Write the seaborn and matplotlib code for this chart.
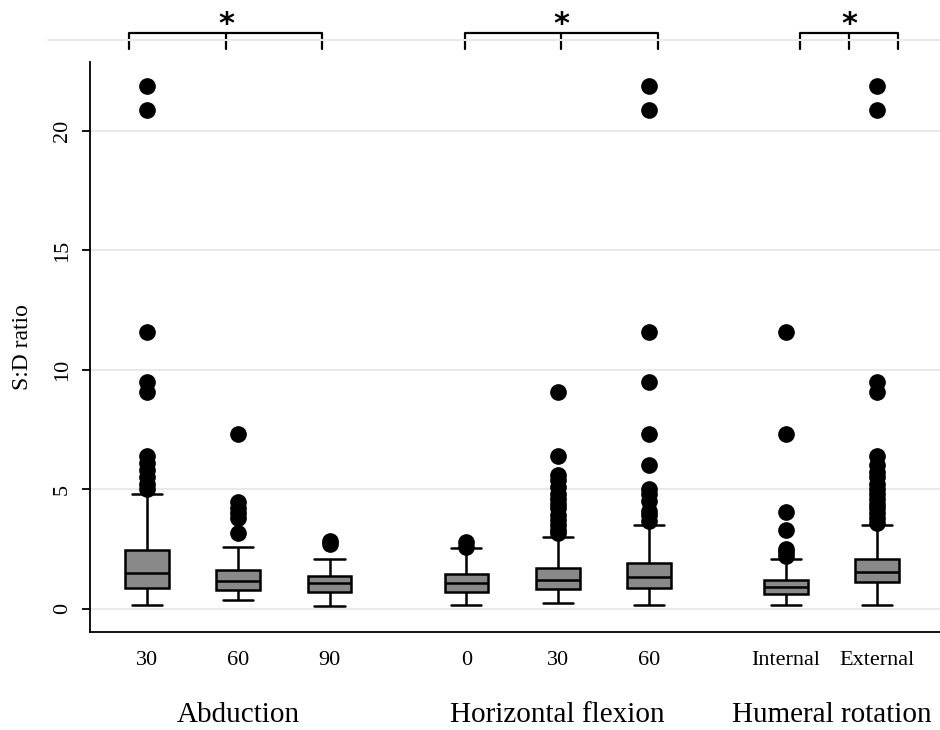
import pandas as pd
import seaborn as sns
import matplotlib.pyplot as plt
from matplotlib.lines import Line2D

# box summaries (S:D ratio)
tick_labels = ['30', '60', '90', '0', '30', '60', 'Internal', 'External']
positions = [0, 1, 2, 3.5, 4.5, 5.5, 7, 8]
groups = ['Abduction', 'Horizontal flexion', 'Humeral rotation']
group_centers = [1, 4.5, 7.5]

low = [0.14, 0.35, 0.11, 0.15, 0.23, 0.13, 0.13, 0.13]
q1 = [0.88, 0.77, 0.71, 0.70, 0.81, 0.85, 0.60, 1.10]
median = [1.47, 1.15, 1.06, 1.09, 1.19, 1.33, 0.92, 1.54]
q3 = [2.45, 1.62, 1.37, 1.44, 1.69, 1.92, 1.19, 2.08]
high = [4.80, 2.57, 2.07, 2.53, 3.00, 3.50, 2.07, 3.52]
outliers = [
    [21.9, 20.9, 11.6, 9.5, 9.05, 6.4, 6.1, 5.8, 5.5, 5.2, 5.0],
    [7.3, 4.45, 4.2, 4.0, 3.8, 3.15],
    [2.85, 2.7],
    [2.8, 2.6],
    [9.05, 6.4, 5.6, 5.4, 5.1, 4.8, 4.6, 4.4, 4.2, 3.9, 3.7, 3.5, 3.3, 3.15],
    [21.9, 20.9, 11.6, 9.5, 7.3, 6.0, 5.0, 4.8, 4.5, 4.1, 3.9, 3.65],
    [11.6, 7.3, 4.05, 3.3, 2.5, 2.35, 2.2],
    [21.9, 20.9, 9.5, 9.05, 6.4, 6.0, 5.7, 5.5, 5.2, 5.0, 4.8, 4.6, 4.4, 4.2,
     4.0, 3.8, 3.6],
]

# significance brackets: (left, middle, right) in x units
brackets = [(-0.2, 0.866, 1.918), (3.485, 4.537, 5.6), (7.156, 7.693, 8.23)]

BOX_W = 0.48
CAP_W = 0.33

# long table whose quartiles/whiskers reproduce the summaries above
rows = []
for i, p in enumerate(positions):
    r = len(outliers[i]) + 2
    vals = [low[i]] + [q1[i]] * r + [median[i]] * r + [q3[i]] * r + [high[i]] + outliers[i]
    rows += [(p, v) for v in vals]
df = pd.DataFrame(rows, columns=['pos', 'value'])

sns.set_theme(style='white')
plt.rcParams['font.family'] = ['Liberation Serif', 'DejaVu Serif']
plt.rcParams['text.color'] = 'black'
plt.rcParams['xtick.color'] = 'black'
plt.rcParams['ytick.color'] = 'black'
plt.rcParams['axes.labelcolor'] = 'black'

fig = plt.figure(figsize=(9.4, 7.3), dpi=100)
ax = fig.add_axes([90 / 940, 1 - 632 / 730, 850 / 940, 570 / 730])

for y in [0, 5, 10, 15, 20]:
    ax.axhline(y, color='#e9e9e9', lw=1.5, zorder=0)

sns.boxplot(data=df, x='pos', y='value', native_scale=True, width=BOX_W,
            color='#898989', linecolor='black', linewidth=1.8, saturation=1,
            flierprops=dict(marker='o', markerfacecolor='black',
                            markeredgecolor='black', markersize=11),
            ax=ax)

# widen the whisker caps
for ln in ax.lines:
    xd, yd = ln.get_xdata(), ln.get_ydata()
    if len(xd) == 2 and yd[0] == yd[1] and abs(xd[1] - xd[0]) < BOX_W * 0.9:
        c = (xd[0] + xd[1]) / 2
        ln.set_xdata([c - CAP_W / 2, c + CAP_W / 2])

ax.set_xlim(-0.625, 8.69)
ax.set_ylim(-0.98, 22.89)
ax.set_xticks(positions, tick_labels)
ax.set_yticks([0, 5, 10, 15, 20])
ax.tick_params(axis='x', length=0, pad=14, labelsize=16)
ax.tick_params(axis='y', length=6, width=1.3, pad=7, labelsize=16,
               labelrotation=90, left=True)
for t in ax.get_yticklabels():
    t.set_va('center')
ax.set_xlabel('')
ax.set_ylabel('S:D ratio', fontsize=17)
ax.yaxis.set_label_coords(-0.067, 0.5)

for s in ['top', 'right']:
    ax.spines[s].set_visible(False)
for s in ['left', 'bottom']:
    ax.spines[s].set_color('black')
    ax.spines[s].set_linewidth(1.3)

for name, c in zip(groups, group_centers):
    ax.text(c, -0.146, name, transform=ax.get_xaxis_transform(),
            ha='center', va='center', fontsize=21)

# top rule and significance brackets
fig.add_artist(Line2D([48 / 940, 1], [1 - 40 / 730] * 2, color='#e9e9e9', lw=1.5))
for l, m, r in brackets:
    ax.plot([l, l, r, r], [23.44, 24.11, 24.11, 23.44], color='black', lw=1.6,
            clip_on=False)
    ax.plot([m, m], [24.11, 23.44], color='black', lw=1.6, clip_on=False)
    ax.text(m, 24.45, '*', ha='center', va='center', fontsize=22,
            fontweight='bold', family=['DejaVu Sans'], color='black')

fig.savefig('out.png', dpi=100)
